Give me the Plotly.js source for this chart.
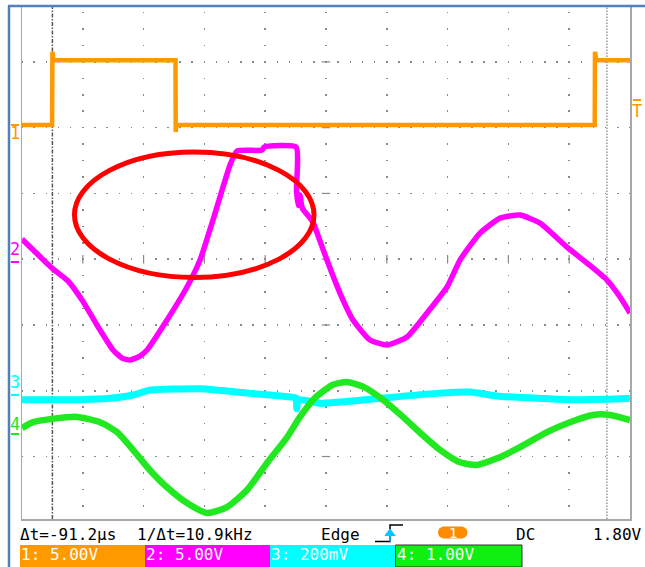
<!DOCTYPE html>
<html><head><meta charset="utf-8">
<script src="https://cdn.plot.ly/plotly-3.0.1.min.js"></script>
<style>html,body{margin:0;padding:0;background:#fff;}#chart{width:645px;height:567px;}</style>
</head><body><div id="chart"></div>
<script>
// ---------- data (time in µs, 10 µs/div) ----------
const ch1Time  = [-50, -45.05, -45.0, -44.96, -44.8, -24.75, -24.72, -24.66, -24.5, 44.2, 44.24, 44.28, 44.45, 50];
const ch1Volts = [0.0, 0.0, 5.57, 5.2, 4.92, 4.92, -0.53, -0.2, 0.0, 0.0, 5.57, 5.1, 4.92, 4.92];

const ch2Time  = [-50, -45.07, -42.43, -40.13, -37.17, -35.03, -33.55, -32.24, -30.59, -29.44, -26.15, -22.86, -20.72, -18.59, -16.94, -15.79, -14.64, -10.53, -10.2, -4.93, -4.85, -4.6, -4.3, -3.9, -2.14, -1.3, 0.16, 2.30, 4.44, 7.24, 10.03, 13.32, 16.61, 19.90, 22.04, 25.33, 28.62, 31.91, 35.20, 39.64, 42.93, 46.22, 48.36, 50];
const ch2Volts = [1.75, -0.46, -1.44, -2.89, -5.17, -6.69, -7.30, -7.45, -7.15, -6.69, -4.41, -1.90, 0.15, 3.19, 5.70, 7.37, 8.44, 8.51, 8.74, 8.74, 5.5, 4.3, 5.1, 4.1, 3.04, 2.0, 0.15, -2.36, -4.41, -5.93, -6.31, -5.70, -3.88, -1.90, 0.15, 2.20, 3.34, 3.57, 2.96, 1.14, -0.08, -1.37, -2.66, -3.88];

const ch3Time = [-50, -40.5, -35.5, -31.7, -29, -20.7, -12.5, -5.9, -4.95, -4.8, -4.6, -1.0, 4.4, 10.0, 18.2, 23.7, 28.1, 34.7, 40.1, 46.2, 50];
const ch3mV   = [-14, -14, -10, 0, 15, 19, 5, -6, -9, -42, -14, -25, -18, -8, 5, 9, -3, -10, -14, -13, -10];

const ch4Time  = [-50, -48.19, -45.07, -40.95, -37.17, -34.38, -31.74, -28.95, -26.15, -22.86, -19.57, -16.28, -12.99, -9.70, -6.41, -4.28, -1.81, 1.15, 3.45, 6.09, 9.38, 12.66, 15.46, 18.75, 22.04, 24.84, 28.13, 31.91, 36.35, 40.13, 43.91, 46.71, 50];
const ch4Volts = [0.09, 0.18, 0.23, 0.26, 0.18, 0.03, -0.24, -0.55, -0.81, -1.05, -1.20, -1.11, -0.85, -0.44, -0.05, 0.26, 0.55, 0.75, 0.79, 0.72, 0.52, 0.26, 0.02, -0.24, -0.43, -0.47, -0.37, -0.20, 0.03, 0.18, 0.29, 0.29, 0.21];

const cursorA = -45.0, cursorB = 46.2;          // µs
const channelLabels = ['1: 5.00V', '2: 5.00V', '3: 200mV', '4: 1.00V'];
const statusTexts = ['Δt=-91.2µs', '1/Δt=10.9kHz', 'Edge', 'DC', '1.80V'];

// ---------- layout geometry ----------
const L = 22, R = 630, T = 6, B = 519;
const px = x => (x - L) / (R - L);
const py = y => (B - y) / (B - T);
const Y0 = -3.95, Y1 = 3.85;   // visible divisions
const chRange = (scale, off) => [(Y0 - off) * scale, (Y1 - off) * scale];

const C1 = '#ff9900', C2 = '#ff00ff', C3 = '#00ffff', C4 = '#22e822';
const mono = 'DejaVu Sans Mono';

// center-axis tick marks (decoration)
const tx = [], ty = [], vx = [], vy = [];
for (let k = -4; k <= 4; k++) { tx.push(k * 10); ty.push(0); }
for (let k = -3; k <= 3; k++) { vx.push(0); vy.push(k); }

const traces = [
  {x: tx, y: ty, mode: 'markers', yaxis: 'y', marker: {symbol: 'line-ns', size: 6, line: {width: 1.2, color: '#8a8a8a'}}, hoverinfo: 'skip'},
  {x: vx, y: vy, mode: 'markers', yaxis: 'y', marker: {symbol: 'line-ew', size: 6, line: {width: 1.2, color: '#8a8a8a'}}, hoverinfo: 'skip'},
  {x: ch1Time, y: ch1Volts, mode: 'lines', yaxis: 'y2', line: {color: C1, width: 4.5}},
  {x: ch2Time, y: ch2Volts, mode: 'lines', yaxis: 'y3', line: {color: C2, width: 5.5, shape: 'spline', smoothing: 0.5}},
  {x: ch4Time, y: ch4Volts, mode: 'lines', yaxis: 'y5', line: {color: C4, width: 6.5, shape: 'spline', smoothing: 0.6}},
  {x: ch3Time, y: ch3mV, mode: 'lines', yaxis: 'y4', line: {color: C3, width: 7, shape: 'spline', smoothing: 0.5}}
];

const hidden = r => ({overlaying: 'y', range: r, visible: false, showgrid: false, zeroline: false, fixedrange: true});

const shapes = [
  // cursors
  {type: 'line', xref: 'x', yref: 'paper', x0: cursorA, x1: cursorA, y0: 0, y1: 1, layer: 'below', line: {color: '#555', width: 1.5, dash: '4px,1.5px,1.5px,1.5px'}},
  {type: 'line', xref: 'x', yref: 'paper', x0: cursorB, x1: cursorB, y0: 0, y1: 1, layer: 'below', line: {color: '#999', width: 1.5, dash: '1.5px,1.5px'}},
  // red ellipse highlight
  {type: 'circle', xref: 'x', yref: 'y', x0: -41.37, x1: -1.97, y0: -0.278, y1: 1.63, layer: 'above', line: {color: '#ff0000', width: 5}},
  // blue frame
  {type: 'line', xref: 'paper', yref: 'paper', x0: px(9), x1: px(9), y0: py(567), y1: py(6), line: {color: '#4f81bd', width: 2.5}},
  {type: 'line', xref: 'paper', yref: 'paper', x0: px(8), x1: px(645), y0: py(6), y1: py(6), line: {color: '#4f81bd', width: 2.5}},
  // channel ground markers
  {type: 'line', xref: 'paper', yref: 'paper', x0: px(11), x1: px(19), y0: py(125), y1: py(125), line: {color: C1, width: 2}},
  {type: 'line', xref: 'paper', yref: 'paper', x0: px(11), x1: px(19), y0: py(262), y1: py(262), line: {color: C2, width: 2}},
  {type: 'line', xref: 'paper', yref: 'paper', x0: px(11), x1: px(19), y0: py(395), y1: py(395), line: {color: C3, width: 2}},
  {type: 'line', xref: 'paper', yref: 'paper', x0: px(11), x1: px(19), y0: py(434), y1: py(434), line: {color: C4, width: 2}},
  // trigger level marker
  {type: 'line', xref: 'paper', yref: 'paper', x0: px(633), x1: px(641), y0: py(100), y1: py(100), line: {color: C1, width: 2}},
  // channel boxes
  {type: 'rect', xref: 'paper', yref: 'paper', x0: px(20), x1: px(145), y0: py(567), y1: py(545), fillcolor: C1, line: {width: 0}},
  {type: 'rect', xref: 'paper', yref: 'paper', x0: px(145), x1: px(270), y0: py(567), y1: py(545), fillcolor: C2, line: {width: 0}},
  {type: 'rect', xref: 'paper', yref: 'paper', x0: px(270), x1: px(395), y0: py(567), y1: py(545), fillcolor: C3, line: {width: 0}},
  {type: 'rect', xref: 'paper', yref: 'paper', x0: px(395.5), x1: px(522), y0: py(567), y1: py(545), fillcolor: '#11ee11', line: {color: '#333', width: 1}},
  // trigger edge symbol
  {type: 'path', xref: 'paper', yref: 'paper', path: `M${px(375)},${py(541.5)} H${px(390)} V${py(525)} H${px(403)}`, line: {color: '#000', width: 1.5}},
  {type: 'path', xref: 'paper', yref: 'paper', path: `M${px(390)},${py(535)} V${py(541.5)}`, line: {color: '#00c8ff', width: 1.5}},
  {type: 'path', xref: 'paper', yref: 'paper', path: `M${px(385)},${py(535.5)} L${px(390)},${py(529)} L${px(395)},${py(535.5)} Z`, fillcolor: '#00c8ff', line: {color: '#00c8ff', width: 1}},
  // orange pill
  {type: 'rect', xref: 'paper', yref: 'paper', x0: px(444), x1: px(461.5), y0: py(538.5), y1: py(526.5), fillcolor: '#ff8c00', line: {width: 0}},
  {type: 'circle', xref: 'paper', yref: 'paper', x0: px(438), x1: px(450), y0: py(538.5), y1: py(526.5), fillcolor: '#ff8c00', line: {width: 0}},
  {type: 'circle', xref: 'paper', yref: 'paper', x0: px(455.5), x1: px(467.5), y0: py(538.5), y1: py(526.5), fillcolor: '#ff8c00', line: {width: 0}}
];

const ann = (text, x, y, color, size, xanchor) => ({text, x: px(x), y: py(y), xref: 'paper', yref: 'paper', showarrow: false,
  xanchor: xanchor || 'left', yanchor: 'middle', font: {family: mono, size: size || 16, color: color || '#000'}});

const annotations = [
  ann(statusTexts[0], 18, 534),
  ann(statusTexts[1], 135, 534),
  ann(statusTexts[2], 319, 534),
  ann(statusTexts[3], 514, 534),
  ann(statusTexts[4], 591, 534),
  ann('1', 452.5, 533, '#fff', 14, 'center'),
  ann(channelLabels[0], 19, 554, '#fff'),
  ann(channelLabels[1], 144, 554, '#fff'),
  ann(channelLabels[2], 269, 554, '#fff'),
  ann(channelLabels[3], 395, 554, '#fff'),
  ann('1', 15, 133, C1, 17, 'center'),
  ann('2', 15, 249, C2, 17, 'center'),
  ann('3', 15, 382, C3, 17, 'center'),
  ann('4', 15, 424, C4, 17, 'center'),
  ann('T', 637, 111, C1, 17, 'center')
];

const layout = {
  width: 645, height: 567,
  margin: {l: L, r: 645 - R, t: T, b: 567 - B, pad: 0},
  paper_bgcolor: '#fff', plot_bgcolor: '#fff',
  showlegend: false, hovermode: false,
  xaxis: {range: [-50, 50], tick0: 0, dtick: 10, showticklabels: false, ticks: '', zeroline: false,
          showgrid: true, gridcolor: '#8a8a8a', gridwidth: 1.5, griddash: '0px,5.85px,1.5px,9.09px',
          showline: true, linecolor: '#a8a8a8', linewidth: 1.5, fixedrange: true},
  yaxis: {range: [Y0, Y1], tick0: 0, dtick: 1, showticklabels: false, ticks: '', zeroline: false,
          showgrid: true, gridcolor: '#8a8a8a', gridwidth: 1.5, griddash: '0.75px,10.66px,0.75px,0px',
          showline: true, mirror: true, linecolor: '#a8a8a8', linewidth: 1.5, fixedrange: true},
  yaxis2: hidden(chRange(5, 2.04)),
  yaxis3: hidden(chRange(5, -0.043)),
  yaxis4: hidden(chRange(200, -2.065)),
  yaxis5: hidden(chRange(1, -2.658)),
  shapes, annotations
};

Plotly.newPlot('chart', traces, layout, {staticPlot: true, displayModeBar: false});
</script></body></html>
